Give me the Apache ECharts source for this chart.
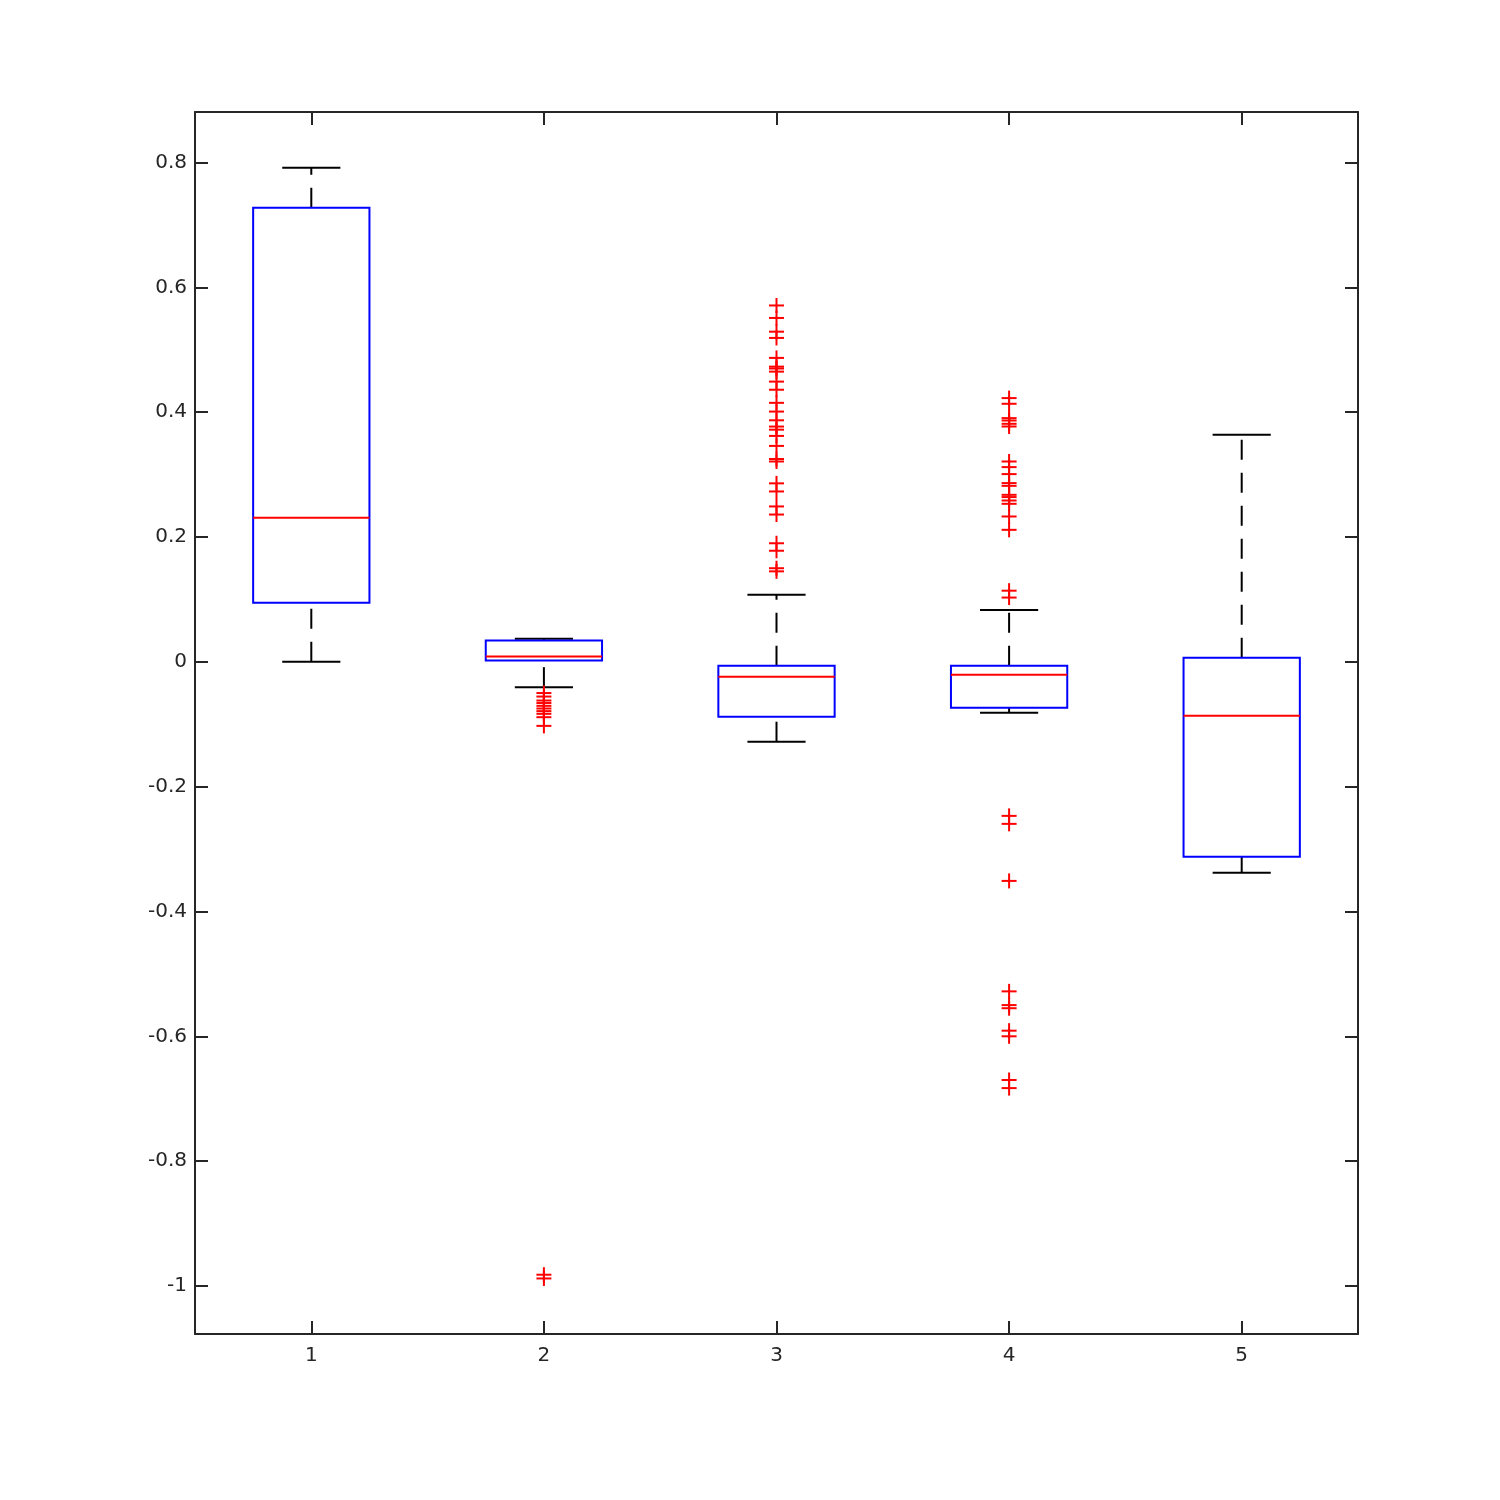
<!DOCTYPE html>
<html>
<head>
<meta charset="utf-8">
<script src="https://cdn.jsdelivr.net/npm/echarts@6/dist/echarts.min.js"></script>
<style>html,body{margin:0;padding:0;background:#fff}#c{width:1500px;height:1500px}</style>
</head>
<body>
<div id="c"></div>
<script>
var categories = ['1', '2', '3', '4', '5'];
var whiskerLow  = [0.000, -0.0406, -0.128, -0.0817, -0.338];
var q1          = [0.0946, 0.002, -0.088, -0.0737, -0.3125];
var medians     = [0.2308, 0.0085, -0.024, -0.0208, -0.0865];
var q3          = [0.7276, 0.034, -0.0064, -0.0064, 0.0064];
var whiskerHigh = [0.7917, 0.0369, 0.1074, 0.083, 0.3638];

var outliers1 = [];
var outliers2 = [-0.050, -0.0556, -0.062, -0.066, -0.0705, -0.0748, -0.079, -0.0833, -0.0887, -0.1026, -0.982, -0.988];
var outliers3 = [0.571, 0.551, 0.529, 0.519, 0.487, 0.473, 0.470, 0.465, 0.449, 0.436, 0.415, 0.401, 0.387, 0.377, 0.372, 0.362, 0.346, 0.325, 0.321, 0.286, 0.273, 0.249, 0.236, 0.190, 0.178, 0.150, 0.145];
var outliers4 = [0.4226, 0.4135, 0.3905, 0.3867, 0.3814, 0.3771, 0.321, 0.312, 0.3008, 0.2864, 0.282, 0.2676, 0.264, 0.2585, 0.2532, 0.2329, 0.2115, 0.114, 0.103, -0.2468, -0.2596, -0.351, -0.528, -0.550, -0.555, -0.591, -0.600, -0.670, -0.683];
var outliers5 = [];

var yTicks = [-1, -0.8, -0.6, -0.4, -0.2, 0, 0.2, 0.4, 0.6, 0.8];

var boxData = categories.map(function (c, i) {
  return [i, whiskerLow[i], q1[i], medians[i], q3[i], whiskerHigh[i]];
});
var outData = [];
[outliers1, outliers2, outliers3, outliers4, outliers5].forEach(function (arr, i) {
  arr.forEach(function (v) { outData.push([i, v]); });
});

var AX = '#262626';
var chart = echarts.init(document.getElementById('c'));

function renderBox(params, api) {
  var i = api.value(0);
  var band = api.size([1, 0])[0];
  var half = band * 0.25;
  var cap = band * 0.125;
  var pLow = api.coord([i, api.value(1)]);
  var pQ1 = api.coord([i, api.value(2)]);
  var pMed = api.coord([i, api.value(3)]);
  var pQ3 = api.coord([i, api.value(4)]);
  var pHigh = api.coord([i, api.value(5)]);
  var x = pMed[0];
  var dashStyle = { stroke: '#000', lineWidth: 2, lineDash: [20, 13] };
  var solid = { stroke: '#000', lineWidth: 2 };
  return {
    type: 'group',
    children: [
      { type: 'line', shape: { x1: x, y1: pQ3[1], x2: x, y2: pHigh[1] }, style: dashStyle },
      { type: 'line', shape: { x1: x, y1: pLow[1], x2: x, y2: pQ1[1] }, style: dashStyle },
      { type: 'line', shape: { x1: x - cap, y1: pHigh[1], x2: x + cap, y2: pHigh[1] }, style: solid },
      { type: 'line', shape: { x1: x - cap, y1: pLow[1], x2: x + cap, y2: pLow[1] }, style: solid },
      { type: 'rect', shape: { x: x - half, y: pQ3[1], width: 2 * half, height: pQ1[1] - pQ3[1] },
        style: { fill: 'none', stroke: '#0000ff', lineWidth: 2 } },
      { type: 'line', shape: { x1: x - half, y1: pMed[1], x2: x + half, y2: pMed[1] },
        style: { stroke: '#ff0000', lineWidth: 2 } }
    ]
  };
}

function renderPlus(params, api) {
  var p = api.coord([api.value(0), api.value(1)]);
  var s = 7.5;
  var st = { stroke: '#ff0000', lineWidth: 2 };
  return {
    type: 'group',
    children: [
      { type: 'line', shape: { x1: p[0] - s, y1: p[1], x2: p[0] + s, y2: p[1] }, style: st },
      { type: 'line', shape: { x1: p[0], y1: p[1] - s, x2: p[0], y2: p[1] + s }, style: st }
    ]
  };
}

var lbl = { color: AX, fontSize: 20, fontFamily: 'DejaVu Sans' };

chart.setOption({
  animation: false,
  backgroundColor: '#fff',
  grid: { left: 195, top: 112, right: 142, bottom: 166, containLabel: false },
  xAxis: [
    { type: 'category', data: categories, position: 'bottom', boundaryGap: true,
      axisLine: { show: true, onZero: false, lineStyle: { color: AX, width: 2 } },
      axisTick: { show: true, inside: true, length: 13, alignWithLabel: true, lineStyle: { color: AX, width: 2 } },
      axisLabel: Object.assign({ margin: 12 }, lbl),
      splitLine: { show: false } },
    { type: 'category', data: categories, position: 'top', boundaryGap: true,
      axisLine: { show: true, onZero: false, lineStyle: { color: AX, width: 2 } },
      axisTick: { show: true, inside: true, length: 13, alignWithLabel: true, lineStyle: { color: AX, width: 2 } },
      axisLabel: { show: false },
      splitLine: { show: false } }
  ],
  yAxis: [
    { type: 'value', min: -1.077, max: 0.881, position: 'left',
      axisLine: { show: true, onZero: false, lineStyle: { color: AX, width: 2 } },
      axisTick: { show: true, inside: true, length: 13, customValues: yTicks, lineStyle: { color: AX, width: 2 } },
      axisLabel: Object.assign({ margin: 8, customValues: yTicks, formatter: function (v) { return String(Math.round(v * 10) / 10); } }, lbl),
      splitLine: { show: false } },
    { type: 'value', min: -1.077, max: 0.881, position: 'right',
      axisLine: { show: true, onZero: false, lineStyle: { color: AX, width: 2 } },
      axisTick: { show: true, inside: true, length: 13, customValues: yTicks, lineStyle: { color: AX, width: 2 } },
      axisLabel: { show: false },
      splitLine: { show: false } }
  ],
  series: [
    { type: 'custom', xAxisIndex: 0, yAxisIndex: 0, renderItem: renderBox, data: boxData, z: 2 },
    { type: 'custom', xAxisIndex: 0, yAxisIndex: 0, renderItem: renderPlus, data: outData, z: 3 }
  ]
});
</script>
</body>
</html>
